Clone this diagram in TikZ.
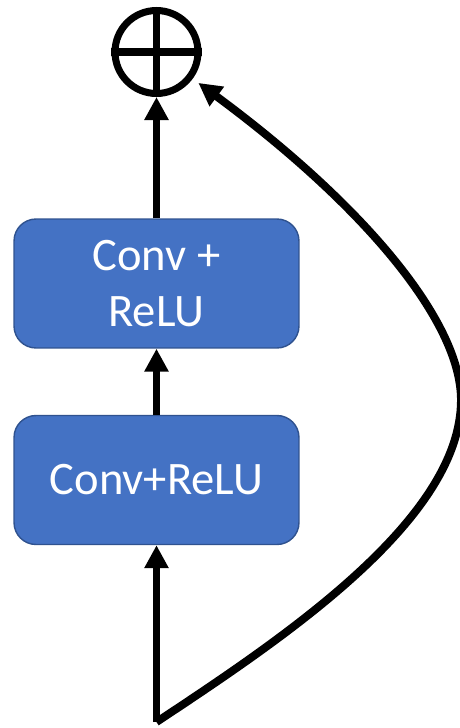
\documentclass[tikz,border=0pt]{standalone}
\usepackage{fontspec}
\setmainfont{Carlito}
\usetikzlibrary{arrows.meta}
\definecolor{boxblue}{HTML}{4472C4}
\definecolor{boxedge}{HTML}{2F528F}

\begin{document}
\begin{tikzpicture}[x=0.02cm,y=-0.02cm,
        layer/.style={fill=boxblue,draw=boxedge,line width=0.8pt,rounded corners=0.44cm,
                minimum width=5.7cm,minimum height=2.58cm,text=white,align=center,
                font=\fontsize{26.5}{31.5}\selectfont},
        flow/.style={line width=4.5pt,-{Triangle[length=0.46cm,width=0.46cm]}}]
        \useasboundingbox (0,0) rectangle (460,728);

        \node[draw,circle,line width=4pt,minimum size=1.66cm,inner sep=0pt] (sum) at (156.5,52) {};
        \draw[line width=4pt] (sum.north) -- (sum.south);
        \draw[line width=4pt] (sum.west) -- (sum.east);

        \node[layer] (conv2) at (156.5,283.5) {Conv +\\ReLU};
        \node[layer] (conv1) at (156.5,480) {Conv+ReLU};
        \coordinate (in) at (156.5,722);
        \coordinate (bend) at (461,400);

        \draw[flow] (in) -- (conv1);
        \draw[flow] (conv1) -- (conv2);
        \draw[flow] (conv2) -- (sum);
        \draw[flow,shorten >=4pt] (in) .. controls (282.5,638.6) and (461,520) .. (bend)
                .. controls (461,320) and (361,203) .. (sum);
\end{tikzpicture}
\end{document}
